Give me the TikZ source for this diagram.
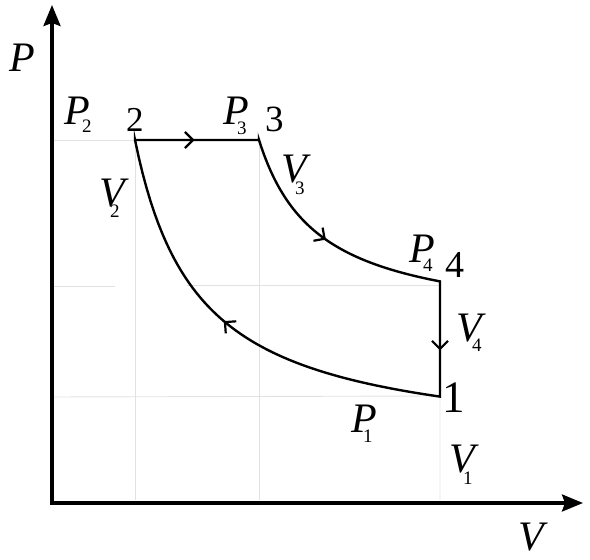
\documentclass[tikz,border=0pt]{standalone}
\usepackage{fontspec}
\setmainfont{Liberation Serif}
\usetikzlibrary{arrows.meta,decorations.markings}
\definecolor{gridgray}{HTML}{E2E2E2}
\newcommand{\sz}[2]{{\fontsize{#1}{#1}\selectfont #2}}
\newcommand{\pvlab}[4]{\sz{42}{\itshape #1}\kern#2pt\raisebox{-#3pt}{\sz{19}{#4}}}
\tikzset{
	cycle line/.style={line width=2.4pt,line join=miter},
	grid line/.style={line width=0.9pt,gridgray},
	axis line/.style={line width=3.2pt,-{Stealth[length=21pt,width=17pt,inset=3pt]}},
	flow mark/.style={postaction={decorate},decoration={markings,
			mark=at position #1 with {\arrow{Straight Barb[length=8pt,width=16pt,line width=2.2pt]}}}},
	lbl/.style={inner sep=0pt,anchor=base west}
}
\begin{document}
\begin{tikzpicture}[x=1pt,y=1pt]
			\useasboundingbox (0,0) rectangle (590,560);
			\coordinate (O) at (52,57);
			\coordinate (Ptop) at (52,555);
			\coordinate (Vend) at (583,57);
			\coordinate (s1) at (440,164);
			\coordinate (s2) at (135,420);
			\coordinate (s3) at (259,420);
			\coordinate (s4) at (440,278);
			\draw[grid line] (52,420) -- (s2) -- (135,60);
			\draw[grid line] (s3) -- (259,60);
			\draw[grid line] (52,274) -- (115,274);
			\draw[grid line] (187,275) -- (440,275);
			\draw[grid line] (52,163) -- (s1) -- (440,60);
			\draw[axis line] (O) -- (Ptop);
			\draw[axis line] ([xshift=-1.6pt]O) -- (Vend);
			\draw[cycle line] (s2) -- (s3) -- plot[domain=259:440,samples=80] (\x,{232.5+110.63/((\x-200)/100)}) -- (s4) -- (s1)
				-- plot[domain=440:135,samples=80] (\x,{110.4+195.07/((\x-72)/100)}) -- cycle;
			\path[flow mark=0.48] (s2) -- (s3);
			\path[flow mark=0.5] plot[domain=259:440,samples=80] (\x,{232.5+110.63/((\x-200)/100)});
			\path[flow mark=0.6] (s4) -- (s1);
			\path[flow mark=0.53] plot[domain=440:135,samples=80] (\x,{110.4+195.07/((\x-72)/100)});
			\node[lbl] (axP) at (9.7,488) {\sz{42}{\itshape P}};
			\node[lbl] (axV) at (518,9) {\sz{42}{\itshape V}};
			\node[lbl] (n2) at (126,428) {\sz{35}{2}};
			\node[lbl] (n3) at (265,428) {\sz{37}{3}};
			\node[lbl] (n4) at (445,282) {\sz{38}{4}};
			\node[lbl] (n1) at (442,147) {\sz{45}{1}};
			\node[lbl] (p2) at (64.7,435) {\pvlab{P}{-8.4}{8}{2}};
			\node[lbl] (p3) at (223.7,435) {\pvlab{P}{-12.4}{10}{3}};
			\node[lbl] (p4) at (409.7,297) {\pvlab{P}{-12.4}{9}{4}};
			\node[lbl] (p1) at (351.7,127) {\pvlab{P}{-14.4}{10}{1}};
			\node[lbl] (v2) at (99,353) {\pvlab{V}{-14.7}{11}{2}};
			\node[lbl] (v3) at (281,377) {\pvlab{V}{-11.7}{12}{3}};
			\node[lbl] (v4) at (456,218) {\pvlab{V}{-9.7}{10}{4}};
			\node[lbl] (v1) at (449,87) {\pvlab{V}{-11.7}{12}{1}};
		\end{tikzpicture}
\end{document}
